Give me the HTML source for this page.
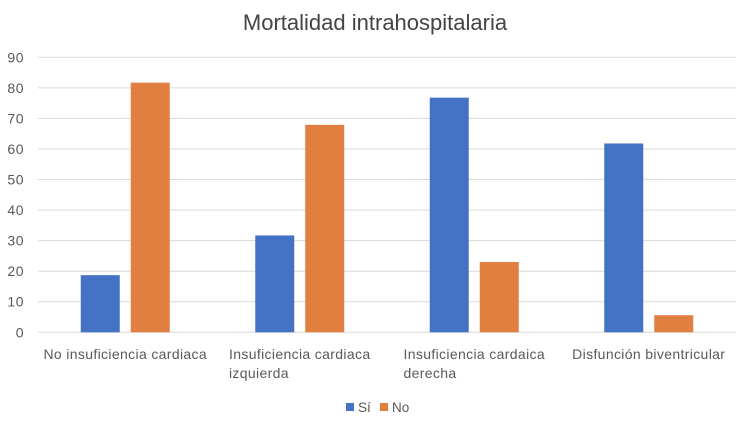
<!DOCTYPE html>
<html><head><meta charset="utf-8"><style>
body{margin:0;background:#fff;font-family:"Liberation Sans",sans-serif;}
svg{display:block}
</style></head><body>
<svg id="c" width="750" height="427">
<text x="375" y="30" text-anchor="middle" font-size="22" fill="#444">Mortalidad intrahospitalaria</text>
<g id="grid"></g><g id="bars"></g><g id="xl"></g>
<g>
<rect x="346" y="403" width="8" height="8" fill="#4472c4"/>
<text x="358" y="412" font-size="13.5" fill="#595959">Sí</text>
<rect x="380" y="403" width="8" height="8" fill="#e07f3f"/>
<text x="392" y="412" font-size="13.5" fill="#595959">No</text>
</g>
</svg>
<script>
const categories=[["No insuficiencia cardiaca"],["Insuficiencia cardiaca","izquierda"],["Insuficiencia cardaica","derecha"],["Disfunción biventricular"]];
const siValues=[18.7,31.7,76.8,61.8];
const noValues=[81.7,67.9,23,5.6];
const yTicks=[0,10,20,30,40,50,60,70,80,90];
const NS="http://www.w3.org/2000/svg";
const L=38,R=736,Y0=332.3,Y90=57.3;
const y=v=>Y0-(v/90)*(Y0-Y90);
const cw=(R-L)/categories.length;
const cx=i=>L+cw*(i+0.5);
function mk(t,a,p){const e=document.createElementNS(NS,t);for(const k in a)e.setAttribute(k,a[k]);p.appendChild(e);return e;}
const g=document.getElementById('grid');
yTicks.forEach(t=>{
 const l=mk('line',{x1:L,x2:R,y1:y(t),y2:y(t),stroke:'#d9d9d9','stroke-width':1},g);
 
 
 const tx=mk('text',{x:24,y:y(t)+5,'text-anchor':'end','font-size':14,'letter-spacing':0.5,fill:'#595959'},g);
 tx.textContent=t;
 
 
});
const b=document.getElementById('bars');
const xl=document.getElementById('xl');
categories.forEach((c,i)=>{
 const s=mk('rect',{x:cx(i)-44.5,y:y(siValues[i]),width:39,height:Y0-y(siValues[i]),fill:'#4472c4'},b);
 
 
 const n=mk('rect',{x:cx(i)+5.5,y:y(noValues[i]),width:39,height:Y0-y(noValues[i]),fill:'#e07f3f'},b);
 
 
 let startX=null;
 c.forEach((line,j)=>{
  const t=mk('text',{x:0,y:359+j*19,'font-size':14,'letter-spacing':0.35,fill:'#595959'},xl);
  t.textContent=line;
  
  
  if(j==0){startX=cx(i)-t.getComputedTextLength()/2;}
  t.setAttribute('x',startX);
 });
});
</script>
</body></html>
